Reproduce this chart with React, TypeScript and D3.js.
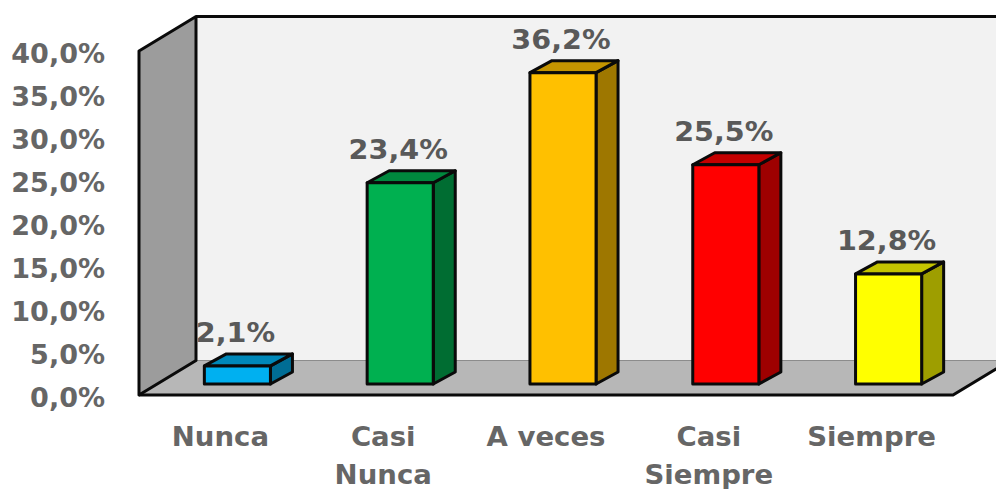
import React from 'react';
import * as d3 from 'd3';

const categories = ['Nunca', 'Casi Nunca', 'A veces', 'Casi Siempre', 'Siempre'];
const categoryLines = [['Nunca'], ['Casi', 'Nunca'], ['A veces'], ['Casi', 'Siempre'], ['Siempre']];
const values = [2.1, 23.4, 36.2, 25.5, 12.8];
const barColors = ['#00B0F0', '#00B050', '#FFC000', '#FF0000', '#FFFF00'];
const yTicks = [0, 5, 10, 15, 20, 25, 30, 35, 40];

const width = 996;
const height = 489;
const font = '"DejaVu Sans", sans-serif';

// front plane of the box, the walls sit behind it
const x = d3.scaleBand<string>().domain(categories).range([139, 953]).paddingInner(0.594).paddingOuter(0.297);
const y = d3.scaleLinear().domain([0, 40]).range([395, 51]);

const wallDx = 57;
const wallDy = -34.5;
// bars stand a little behind the front plane and have their own depth
const barShiftX = 17;
const barShiftY = -11;
const barDx = 22;
const barDy = -12;
// the reference text is a bit wider than the font at this height
const stretch = 1.06;

const shade = (c: string, k: number) => {
  const r = d3.rgb(c);
  return d3.rgb(r.r * k, r.g * k, r.b * k).formatHex();
};

const poly = (pts: [number, number][]) => {
  const p = d3.path();
  pts.forEach((pt, i) => (i ? p.lineTo(pt[0], pt[1]) : p.moveTo(pt[0], pt[1])));
  p.closePath();
  return p.toString();
};

const fmt = (v: number) => v.toFixed(1).replace('.', ',') + '%';

export default function App() {
  const [x0, x1] = x.range();
  const y0 = y(0);
  const yTop = y(40);
  return (
    <svg width={width} height={height} style={{ position: 'absolute', left: 0, top: 0, background: '#fff' }}>
      {/* back wall */}
      <path d={poly([[x0 + wallDx, yTop + wallDy], [x1 + wallDx, yTop + wallDy], [x1 + wallDx, y0 + wallDy], [x0 + wallDx, y0 + wallDy]])} fill="#f2f2f2" />
      {/* floor */}
      <path d={poly([[x0, y0], [x1, y0], [x1 + wallDx, y0 + wallDy], [x0 + wallDx, y0 + wallDy]])} fill="#b7b7b7" />
      <line x1={x0 + wallDx} x2={x1 + wallDx} y1={y0 + wallDy} y2={y0 + wallDy} stroke="#8c8c8c" strokeWidth={1} />
      {/* side wall */}
      <path d={poly([[x0, yTop], [x0 + wallDx, yTop + wallDy], [x0 + wallDx, y0 + wallDy], [x0, y0]])} fill="#9c9c9c" stroke="#0a0a0a" strokeWidth={3} strokeLinejoin="round" />
      <line x1={x0 + wallDx} x2={x1 + wallDx} y1={yTop + wallDy} y2={yTop + wallDy} stroke="#0a0a0a" strokeWidth={3} />
      <path d={`M${x0},${y0}H${x1}L${x1 + wallDx},${y0 + wallDy}`} fill="none" stroke="#0a0a0a" strokeWidth={3} />

      {yTicks.map(t => (
        <text key={t} x={105} y={y(t) + 12} textAnchor="end" fontFamily={font} fontWeight="bold" fontSize={27} fill="#666666">
          {fmt(t)}
        </text>
      ))}

      {categories.map((c, i) => {
        const left = (x(c) as number) + barShiftX;
        const w = x.bandwidth();
        const base = y0 + barShiftY;
        const top = y(values[i]) + barShiftY;
        const color = barColors[i];
        return (
          <g key={c} stroke="#0a0a0a" strokeWidth={3} strokeLinejoin="round">
            <path d={poly([[left + w, top], [left + w + barDx, top + barDy], [left + w + barDx, base + barDy], [left + w, base]])} fill={shade(color, 0.62)} />
            <path d={poly([[left, top], [left + barDx, top + barDy], [left + w + barDx, top + barDy], [left + w, top]])} fill={shade(color, 0.77)} />
            <rect x={left} y={top} width={w} height={base - top} fill={color} />
          </g>
        );
      })}

      {categories.map((c, i) => (
        <text
          key={c}
          transform={`translate(${(x(c) as number) + x.bandwidth() / 2 + 15},${y(values[i]) - 35}) scale(${stretch},1)`}
          textAnchor="middle"
          fontFamily={font}
          fontWeight="bold"
          fontSize={27}
          fill="#595959"
        >
          {fmt(values[i])}
        </text>
      ))}

      {categories.map((c, i) => (
        <g key={c} transform={`translate(${(x(c) as number) + x.bandwidth() / 2},0)`}>
          {categoryLines[i].map((line, j) => (
            <text
              key={line}
              transform={`translate(0,${446 + j * 38}) scale(${stretch},1)`}
              textAnchor="middle"
              fontFamily={font}
              fontWeight="bold"
              fontSize={26}
              fill="#666666"
            >
              {line}
            </text>
          ))}
        </g>
      ))}
    </svg>
  );
}
